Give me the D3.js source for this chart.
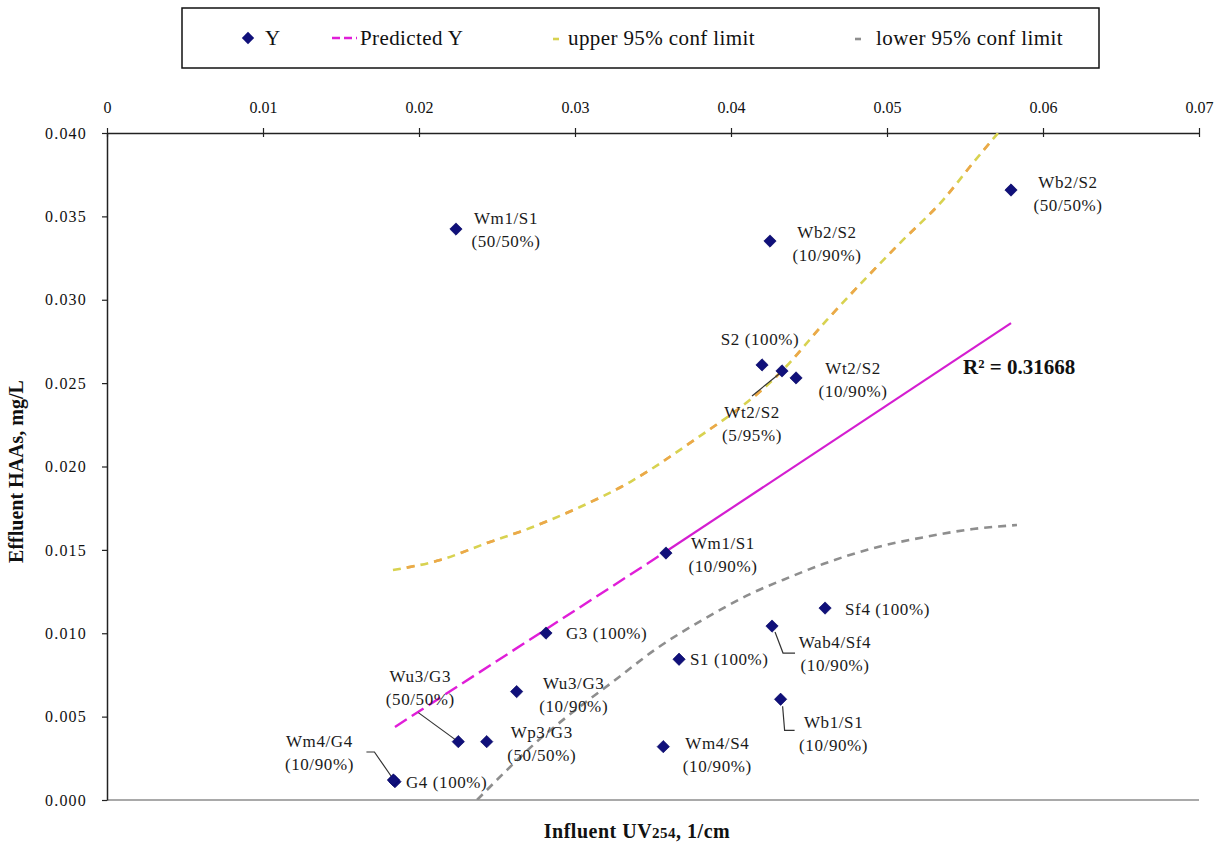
<!DOCTYPE html>
<html>
<head>
<meta charset="utf-8">
<script src="https://cdn.jsdelivr.net/npm/d3@7"></script>
<style>
  html, body { margin: 0; padding: 0; background: #fff; }
  svg { display: block; font-family: "Liberation Serif", "Times New Roman", serif; }
</style>
</head>
<body>
<svg id="chart" width="1225" height="845"></svg>
<script>
// Observed samples: influent UV254 (1/cm) vs effluent HAAs (mg/L)
const sampleNames = [
  ["Wm1/S1", "(50/50%)"], ["Wb2/S2", "(10/90%)"], ["Wb2/S2", "(50/50%)"],
  ["S2 (100%)"], ["Wt2/S2", "(5/95%)"], ["Wt2/S2", "(10/90%)"],
  ["Wm1/S1", "(10/90%)"], ["Sf4 (100%)"], ["Wab4/Sf4", "(10/90%)"],
  ["S1 (100%)"], ["Wb1/S1", "(10/90%)"], ["G3 (100%)"],
  ["Wu3/G3", "(10/90%)"], ["Wu3/G3", "(50/50%)"], ["Wp3/G3", "(50/50%)"],
  ["G4 (100%)"], ["Wm4/G4", "(10/90%)"], ["Wm4/S4", "(10/90%)"]
];
const uv254 = [0.02237, 0.0425, 0.05795, 0.04199, 0.04327, 0.04417,
               0.03583, 0.04603, 0.04263, 0.03667, 0.04318, 0.02814,
               0.02626, 0.02252, 0.02434, 0.01846, 0.01836, 0.03566];
const haas  = [0.03424, 0.03352, 0.03658, 0.02609, 0.02573, 0.02531,
               0.01481, 0.01151, 0.01043, 0.00844, 0.00604, 0.01001,
               0.0065, 0.0035, 0.0035, 0.0011, 0.0012, 0.0032];

// Fitted regression line
const predX = [0.01846, 0.03583, 0.05795];
const predY = [0.00438, 0.0149, 0.0286];

// Confidence limits
const upperX = [0.01833, 0.02135, 0.02436, 0.02712, 0.03032, 0.03353, 0.03718,
                0.04314, 0.04615, 0.05083, 0.05359, 0.05551, 0.05712];
const upperY = [0.01379, 0.01439, 0.01541, 0.01631, 0.01757, 0.01907, 0.02129,
                0.02561, 0.02879, 0.0334, 0.03598, 0.0382, 0.0400];
const lowerX = [0.02372, 0.02564, 0.02756, 0.02949, 0.03244, 0.03526, 0.03846,
                0.04122, 0.04378, 0.0459, 0.0491, 0.05231, 0.05551, 0.05833];
const lowerY = [0.0, 0.0018, 0.0035, 0.0050, 0.0071, 0.0091, 0.01095,
                0.01235, 0.01337, 0.01415, 0.01510, 0.01575, 0.01625, 0.01649];

const xTicks = [0, 0.01, 0.02, 0.03, 0.04, 0.05, 0.06, 0.07];
const xTickLabels = ["0", "0.01", "0.02", "0.03", "0.04", "0.05", "0.06", "0.07"];
const yTicks = [0, 0.005, 0.01, 0.015, 0.02, 0.025, 0.03, 0.035, 0.04];
const yTickLabels = ["0.000", "0.005", "0.010", "0.015", "0.020", "0.025", "0.030", "0.035", "0.040"];

const legendLabels = ["Y", "Predicted Y", "upper 95% conf limit", "lower 95% conf limit"];
const rSquaredText = "R² = 0.31668";

// ---- layout (pixel offsets of point labels and leader lines) ----
const labelLayout = [
  { dx: 50, dy: -11, anchor: "middle" }, { dx: 57, dy: -9, anchor: "middle" },
  { dx: 57, dy: -8, anchor: "middle" },  { dx: -2, dy: -26, anchor: "middle" },
  { dx: -30, dy: 41, anchor: "middle" }, { dx: 57, dy: -10, anchor: "middle" },
  { dx: 57, dy: -10, anchor: "middle" }, { dx: 20, dy: 1, anchor: "start" },
  { dx: 63, dy: 16, anchor: "middle" },  { dx: 11, dy: 0, anchor: "start" },
  { dx: 53, dy: 23, anchor: "middle" },  { dx: 20, dy: 0, anchor: "start" },
  { dx: 57, dy: -9, anchor: "middle" },  { dx: -38, dy: -66, anchor: "middle" },
  { dx: 55, dy: -10, anchor: "middle" }, { dx: 11, dy: 0, anchor: "start" },
  { dx: -74, dy: -39, anchor: "middle" },{ dx: 54, dy: -4, anchor: "middle" }
];
const leaderLayout = {
  4:  [[-30, 25], [-3, 3]],
  8:  [[3, 6], [11, 27], [23, 27]],
  10: [[2, 7], [4, 31], [14, 31]],
  13: [[-40, -29], [-3, -2]],
  16: [[-27, -28], [-19, -28], [-1, -2]]
};

const svg = d3.select("#chart");
const plotLeft = 107, plotRight = 1199, plotTop = 133, plotBottom = 800;

const x = d3.scaleLinear().domain([0, 0.07]).range([plotLeft, plotRight]);
const y = d3.scaleLinear().domain([0, 0.04]).range([plotBottom, plotTop]);

// plot area
svg.append("rect").attr("x", 0).attr("y", 0).attr("width", 1225).attr("height", 845).attr("fill", "#fff");
svg.append("clipPath").attr("id", "plotClip")
  .append("rect").attr("x", plotLeft).attr("y", plotTop)
  .attr("width", plotRight - plotLeft).attr("height", plotBottom - plotTop);

// bottom border of plot area
svg.append("line").attr("x1", plotLeft).attr("x2", plotRight).attr("y1", plotBottom).attr("y2", plotBottom)
  .attr("stroke", "#555").attr("stroke-width", 1.2);

// top x axis
const xAxis = svg.append("g").attr("transform", `translate(0,${plotTop})`)
  .call(d3.axisTop(x).tickValues(xTicks).tickFormat((d, i) => xTickLabels[i]).tickSizeOuter(0).tickPadding(14));
// left y axis
const yAxis = svg.append("g").attr("transform", `translate(${plotLeft},0)`)
  .call(d3.axisLeft(y).tickValues(yTicks).tickFormat((d, i) => yTickLabels[i]).tickSizeOuter(0).tickPadding(14));

[xAxis, yAxis].forEach(g => {
  g.select(".domain").attr("stroke", "#222").attr("stroke-width", 1.5);
  g.selectAll(".tick line").attr("stroke", "#222").attr("stroke-width", 1.2);
  g.selectAll(".tick text").attr("fill", "#111")
    .style("font-family", "'Liberation Serif', serif");
});
xAxis.selectAll(".tick text").style("font-size", "16px");
yAxis.selectAll(".tick text").style("font-size", "16px").style("letter-spacing", "1.2px");
xAxis.selectAll(".tick line").attr("y1", -5).attr("y2", 4);
yAxis.selectAll(".tick line").attr("x1", -5).attr("x2", 0);

// axis titles
svg.append("text").attr("transform", `translate(23,${(plotTop + plotBottom) / 2 + 5}) rotate(-90)`)
  .attr("text-anchor", "middle").style("font-size", "20px").style("font-weight", "bold")
  .attr("fill", "#111").text("Effluent HAAs, mg/L");

const xt = svg.append("text").attr("x", 637).attr("y", 838).attr("text-anchor", "middle")
  .style("font-size", "20px").style("font-weight", "bold").attr("fill", "#111")
  .style("letter-spacing", "0.5px");
xt.append("tspan").text("Influent UV");
xt.append("tspan").style("font-size", "15px").text("254");
xt.append("tspan").text(", 1/cm");

const plot = svg.append("g").attr("clip-path", "url(#plotClip)");
const line = d3.line().x(d => x(d[0])).y(d => y(d[1])).curve(d3.curveMonotoneX);

// lower confidence limit
plot.append("path").datum(d3.zip(lowerX, lowerY)).attr("d", line)
  .attr("fill", "none").attr("stroke", "#8e8e8e").attr("stroke-width", 2.6)
  .attr("stroke-dasharray", "8,6");

// upper confidence limit (alternating yellow / orange dashes)
const upperPts = d3.zip(upperX, upperY);
plot.append("path").datum(upperPts).attr("d", line)
  .attr("fill", "none").attr("stroke", "#d8d250").attr("stroke-width", 2.6)
  .attr("stroke-dasharray", "8,6");
plot.append("path").datum(upperPts).attr("d", line)
  .attr("fill", "none").attr("stroke", "#eca84a").attr("stroke-width", 2.6)
  .attr("stroke-dasharray", "8,20").attr("stroke-dashoffset", -14);

// predicted Y: dashed over the lower range, solid over the upper range
const straight = d3.line().x(d => x(d[0])).y(d => y(d[1]));
const predPts = d3.zip(predX, predY);
plot.append("path").datum(predPts.slice(0, 2)).attr("d", straight)
  .attr("fill", "none").attr("stroke", "#e01ed8").attr("stroke-width", 2.4)
  .attr("stroke-dasharray", "14,6");
plot.append("path").datum(predPts.slice(1)).attr("d", straight)
  .attr("fill", "none").attr("stroke", "#d41ed0").attr("stroke-width", 2.2);

// leader lines
Object.keys(leaderLayout).forEach(k => {
  const i = +k, px = x(uv254[i]), py = y(haas[i]);
  svg.append("polyline")
    .attr("points", leaderLayout[k].map(o => `${px + o[0]},${py + o[1]}`).join(" "))
    .attr("fill", "none").attr("stroke", "#333").attr("stroke-width", 1.2);
});

// data markers
const diamond = d3.symbol().type(d3.symbolSquare).size(76);
svg.append("g").selectAll("path").data(d3.range(uv254.length)).join("path")
  .attr("d", diamond)
  .attr("transform", i => `translate(${x(uv254[i])},${y(haas[i])}) rotate(45)`)
  .attr("fill", "#10107a").attr("stroke", "#000060").attr("stroke-width", 0.6);

// point labels
const lab = svg.append("g").style("font-size", "17px").style("letter-spacing", "0.6px").attr("fill", "#1a1a1a");
sampleNames.forEach((lines, i) => {
  const L = labelLayout[i], px = x(uv254[i]), py = y(haas[i]);
  lines.forEach((t, j) => {
    lab.append("text").attr("x", px + L.dx).attr("y", py + L.dy + j * 23)
      .attr("dy", "0.35em").attr("text-anchor", L.anchor).text(t);
  });
});

// R squared
svg.append("text").attr("x", 963).attr("y", 367).attr("dy", "0.35em")
  .style("font-size", "21px").style("font-weight", "bold").attr("fill", "#111").text(rSquaredText);

// legend
const lg = svg.append("g");
lg.append("rect").attr("x", 182).attr("y", 8).attr("width", 917).attr("height", 60)
  .attr("fill", "#fff").attr("stroke", "#111").attr("stroke-width", 1.5);
const ly = 38;
lg.append("path").attr("d", diamond).attr("transform", `translate(248,${ly}) rotate(45)`)
  .attr("fill", "#10107a");
lg.append("line").attr("x1", 332).attr("x2", 357).attr("y1", ly).attr("y2", ly)
  .attr("stroke", "#e01ed8").attr("stroke-width", 2.4).attr("stroke-dasharray", "8,4");
lg.append("line").attr("x1", 553).attr("x2", 559).attr("y1", ly + 1).attr("y2", ly + 1)
  .attr("stroke", "#d8d250").attr("stroke-width", 2.6);
lg.append("line").attr("x1", 855).attr("x2", 861).attr("y1", ly + 1).attr("y2", ly + 1)
  .attr("stroke", "#8e8e8e").attr("stroke-width", 2.6);
const legendX = [265, 360, 568, 876];
legendLabels.forEach((t, i) => {
  lg.append("text").attr("x", legendX[i]).attr("y", ly).attr("dy", "0.35em")
    .style("font-size", "21px").style("letter-spacing", "0.4px").attr("fill", "#111").text(t);
});
</script>
</body>
</html>
